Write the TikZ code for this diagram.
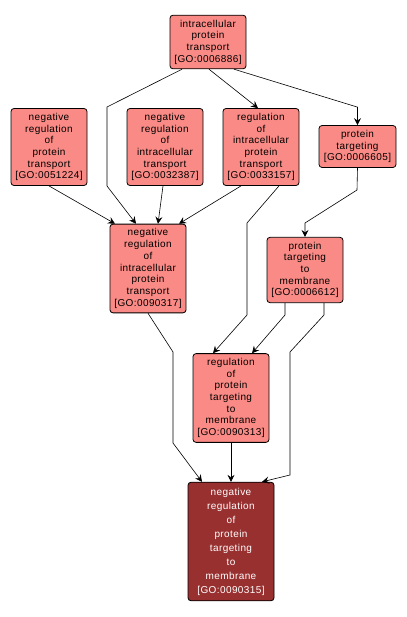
\documentclass[tikz,border=0pt]{standalone}
\usepackage{fontspec}
\setmainfont{Liberation Sans}[LetterSpace=4]
\usetikzlibrary{arrows.meta}
\definecolor{goterm}{RGB}{250,138,133}
\definecolor{goquery}{RGB}{153,48,48}
\begin{document}
\begin{tikzpicture}[x=1pt,y=-1pt,
  term/.style={draw=black,line width=0.8pt,rounded corners=3pt,fill=goterm,align=center,
    minimum width=76pt,inner xsep=1pt,inner ysep=4.6pt,
    font=\fontsize{10}{11.7}\selectfont},
  query/.style={term,fill=goquery,text=white,minimum width=86pt,inner ysep=5.6pt,
    font=\fontsize{10}{14}\selectfont},
  isa/.style={line width=0.6pt,-{Stealth[length=7pt,width=7pt,inset=2.5pt]}}]
\useasboundingbox (0,0) rectangle (406,617);
\node[term] (ipt) at (208,42) {intracellular\\protein\\transport\\{[}GO:0006886{]}};
\node[term] (nrpt) at (49,147) {negative\\regulation\\of\\protein\\transport\\{[}GO:0051224{]}};
\node[term] (nrit) at (165,147) {negative\\regulation\\of\\intracellular\\transport\\{[}GO:0032387{]}};
\node[term] (ript) at (261,147) {regulation\\of\\intracellular\\protein\\transport\\{[}GO:0033157{]}};
\node[term,minimum width=77pt] (pt) at (357.5,146.5) {protein\\targeting\\{[}GO:0006605{]}};
\node[term] (nript) at (148,268.5) {negative\\regulation\\of\\intracellular\\protein\\transport\\{[}GO:0090317{]}};
\node[term] (ptm) at (305,270) {protein\\targeting\\to\\membrane\\{[}GO:0006612{]}};
\node[term] (rptm) at (231,398) {regulation\\of\\protein\\targeting\\to\\membrane\\{[}GO:0090313{]}};
\node[query] (nrptm) at (231,541.5) {negative\\regulation\\of\\protein\\targeting\\to\\membrane\\{[}GO:0090315{]}};
\draw[isa] ([xshift=1pt]ipt.south) -- ([xshift=-3pt]ript.north);
\draw[isa] ([xshift=26pt]ipt.south) -- ([yshift=18pt]pt.north) -- (pt.north);
\draw[isa] ([xshift=-26pt]ipt.south) -- (107,107) -- (107,186) -- ([xshift=-12pt]nript.north);
\draw[isa] (nrpt.south) -- ([xshift=-33pt]nript.north);
\draw[isa] ([xshift=-2pt]nrit.south) -- ([xshift=10pt]nript.north);
\draw[isa] ([xshift=-20pt]ript.south) -- ([xshift=31pt]nript.north);
\draw[isa] ([xshift=18pt]ript.south) -- (247,223) -- (247,315) -- ([xshift=-18pt]rptm.north);
\draw[isa] (pt.south) -- (357,190) -- (305,223) -- (ptm.north);
\draw[isa] ([xshift=-20pt]ptm.south) -- (285,315) -- ([xshift=21pt]rptm.north);
\draw[isa] ([xshift=19pt]ptm.south) -- (324,315) -- (290,352) -- (290,475) -- ([xshift=31pt]nrptm.north);
\draw[isa] (nript.south) -- (173,352) -- (173,443) -- ([xshift=-29pt]nrptm.north);
\draw[isa] (rptm.south) -- (nrptm.north);
\end{tikzpicture}
\end{document}
